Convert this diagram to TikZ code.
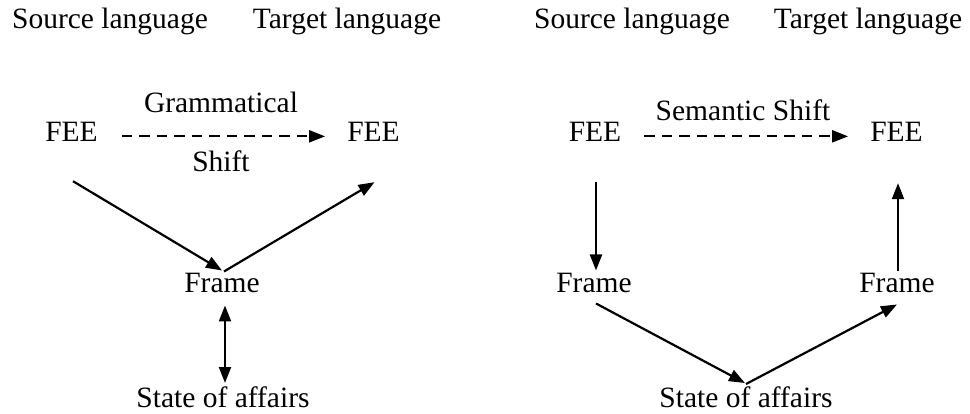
\documentclass[tikz,border=0pt]{standalone}
\usepackage{fontspec}
\setmainfont{Liberation Serif}
\usetikzlibrary{arrows.meta, positioning}

\begin{document}
\begin{tikzpicture}[x=1pt, y=-1pt,
    every node/.style={inner sep=0pt, anchor=base, font=\fontsize{29.5}{33}\selectfont},
    arr/.style={line width=2.2pt, -{Triangle[length=16pt, width=12pt]}},
    darr/.style={line width=2.2pt, {Triangle[length=16pt, width=12pt]}-{Triangle[length=16pt, width=12pt]}},
    dasharr/.style={arr, dash pattern=on 10.5pt off 7pt}]
        \useasboundingbox (0,0) rectangle (970,414);

        % left: grammatical shift
        \node (srcA) at (110,29) {Source language};
        \node (tgtA) at (347,29) {Target language};
        \node (feeA) at (71.5,142) {FEE};
        \node (feeB) at (373.5,142) {FEE};
        \node (gramA) at (221,113) {Grammatical};
        \node (shiftA) at (221,172) {Shift};
        \node (frameA) at (222,293) {Frame};
        \node (stateA) at (223,407) {State of affairs};

        \draw[dasharr] ([shift={(24,4)}]feeA.east) -- ([shift={(-22,4)}]feeB.west);
        \draw[arr] ([shift={(1.5,39)}]feeA.south) -- ([shift={(0,-3)}]frameA.north);
        \draw[arr] ([shift={(2,-2)}]frameA.north) -- ([shift={(1,40)}]feeB.south);
        \draw[darr] ([shift={(3,12)}]frameA.south) -- ([shift={(2,-3)}]stateA.north);

        % right: semantic shift
        \node (srcB) at (632,29) {Source language};
        \node (tgtB) at (868,29) {Target language};
        \node (feeC) at (595,142) {FEE};
        \node (feeD) at (896.5,142) {FEE};
        \node (semB) at (743,121) {Semantic Shift};
        \node (frameC) at (594,293) {Frame};
        \node (frameD) at (897,293) {Frame};
        \node (stateB) at (746,407) {State of affairs};

        \draw[dasharr] ([shift={(23,4)}]feeC.east) -- ([shift={(-22,4)}]feeD.west);
        \draw[arr] ([shift={(1,40)}]feeC.south) -- ([shift={(2,-3)}]frameC.north);
        \draw[arr] ([shift={(1,-2)}]frameD.north) -- ([shift={(1.5,41)}]feeD.south);
        \draw[arr] ([shift={(2,10)}]frameC.south) -- ([shift={(-1,-3)}]stateB.north);
        \draw[arr] ([shift={(0,-2)}]stateB.north) -- ([shift={(0,11)}]frameD.south);
\end{tikzpicture}
\end{document}
